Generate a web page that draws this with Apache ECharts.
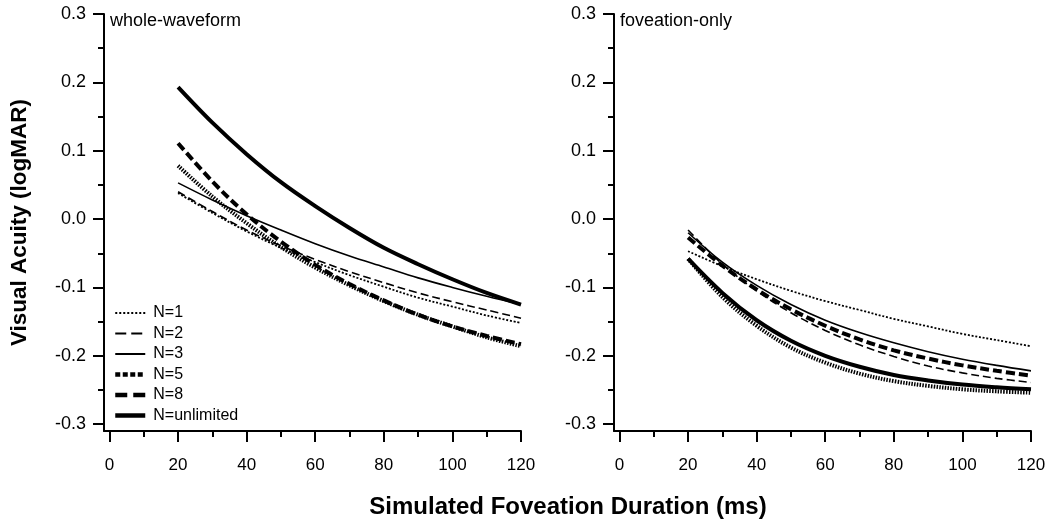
<!DOCTYPE html>
<html><head><meta charset="utf-8">
<script src="https://cdn.jsdelivr.net/npm/echarts@6/dist/echarts.min.js"></script>
<style>html,body{margin:0;padding:0;background:#fff}#c{width:1050px;height:527px}</style>
</head><body><div id="c"></div>
<script>
// ---- data ----
const durations = [20, 30, 40, 50, 60, 70, 80, 90, 100, 110, 120];
const seriesNames = ['N=1', 'N=2', 'N=3', 'N=5', 'N=8', 'N=unlimited'];
const panelTitles = ['whole-waveform', 'foveation-only'];
// whole-waveform panel
const wholeN1   = [0.038, 0.009, -0.018, -0.042, -0.063, -0.082, -0.099, -0.115, -0.128, -0.141, -0.152];
const wholeN2   = [0.040, 0.011, -0.016, -0.039, -0.059, -0.077, -0.093, -0.108, -0.121, -0.133, -0.145];
const wholeN3   = [0.053, 0.028, 0.005, -0.016, -0.036, -0.054, -0.070, -0.086, -0.100, -0.113, -0.125];
const wholeN5   = [0.078, 0.033, -0.006, -0.041, -0.071, -0.097, -0.120, -0.140, -0.157, -0.173, -0.186];
const wholeN8   = [0.111, 0.055, 0.007, -0.033, -0.067, -0.095, -0.119, -0.140, -0.157, -0.171, -0.183];
const wholeNinf = [0.193, 0.141, 0.095, 0.054, 0.019, -0.013, -0.042, -0.066, -0.088, -0.108, -0.125];
// foveation-only panel
const fovN1   = [-0.047, -0.069, -0.088, -0.105, -0.120, -0.133, -0.146, -0.157, -0.168, -0.177, -0.186];
const fovN2   = [-0.016, -0.066, -0.105, -0.137, -0.163, -0.184, -0.201, -0.215, -0.225, -0.233, -0.239];
const fovN3   = [-0.020, -0.063, -0.097, -0.125, -0.148, -0.166, -0.181, -0.194, -0.205, -0.214, -0.222];
const fovN5   = [-0.058, -0.114, -0.156, -0.188, -0.210, -0.226, -0.237, -0.244, -0.249, -0.252, -0.254];
const fovN8   = [-0.027, -0.068, -0.103, -0.132, -0.156, -0.176, -0.192, -0.204, -0.214, -0.222, -0.229];
const fovNinf = [-0.058, -0.108, -0.148, -0.178, -0.200, -0.216, -0.228, -0.236, -0.242, -0.246, -0.249];
// tick values
const xMajorTicks = [0, 20, 40, 60, 80, 100, 120];
const xMinorTicks = [10, 30, 50, 70, 90, 110];
const yMajorTicks = [-0.3, -0.2, -0.1, 0.0, 0.1, 0.2, 0.3];
const yMinorTicks = [-0.25, -0.15, -0.05, 0.05, 0.15, 0.25];

// ---- styling ----
const FONT = "'Liberation Sans', Arial, Helvetica, sans-serif";
const lineStyles = {
  'N=1':         { width: 1.8, type: [2, 1.8] },
  'N=2':         { width: 1.6, type: [8, 4] },
  'N=3':         { width: 1.6, type: 'solid' },
  'N=5':         { width: 4,   type: [1.5, 1.3] },
  'N=8':         { width: 4,   type: [9, 4] },
  'N=unlimited': { width: 4,   type: 'solid' }
};
const legendStyles = {
  'N=1':         { width: 2,   type: [2, 2] },
  'N=2':         { width: 2,   type: [11, 5] },
  'N=3':         { width: 2,   type: 'solid' },
  'N=5':         { width: 4.5, type: [5, 2.5] },
  'N=8':         { width: 4.5, type: [12, 6] },
  'N=unlimited': { width: 4.5, type: 'solid' }
};
const panels = [
  { left: 104, values: [wholeN1, wholeN2, wholeN3, wholeN5, wholeN8, wholeNinf] },
  { left: 614, values: [fovN1, fovN2, fovN3, fovN5, fovN8, fovNinf] }
];
const GRID_TOP = 14, GRID_W = 417, GRID_H = 417;
const X_MIN = -1.6, X_MAX = 120, Y_MIN = -0.31, Y_MAX = 0.3;

const grids = [], xAxes = [], yAxes = [], series = [];
panels.forEach(p => grids.push({ left: p.left, top: GRID_TOP, width: GRID_W, height: GRID_H }));
// minor-tick grids (same geometry)
panels.forEach(p => grids.push({ left: p.left, top: GRID_TOP, width: GRID_W, height: GRID_H }));
const tickLine = { color: '#000', width: 2 };
panels.forEach((p, i) => {
  xAxes.push({
    type: 'value', gridIndex: i, min: X_MIN, max: X_MAX,
    axisLine: { show: true, onZero: false, lineStyle: { color: '#000', width: 2 } },
    axisTick: { show: true, length: 11, customValues: xMajorTicks, lineStyle: tickLine },
    axisLabel: { show: true, customValues: xMajorTicks, margin: 26, fontSize: 17, color: '#000', fontFamily: FONT },
    splitLine: { show: false }
  });
  yAxes.push({
    type: 'value', gridIndex: i, min: Y_MIN, max: Y_MAX,
    name: i === 0 ? 'Visual Acuity (logMAR)' : '',
    nameLocation: 'middle', nameGap: 73,
    nameTextStyle: { fontSize: 22.5, fontWeight: 'bold', color: '#000', fontFamily: FONT },
    axisLine: { show: true, onZero: false, lineStyle: { color: '#000', width: 2 } },
    axisTick: { show: true, length: 11, customValues: yMajorTicks, lineStyle: tickLine },
    axisLabel: { show: true, customValues: yMajorTicks, margin: 18, fontSize: 18, color: '#000', fontFamily: FONT,
                 formatter: v => v.toFixed(1) },
    splitLine: { show: false }
  });
});
panels.forEach((p, i) => {
  xAxes.push({
    type: 'value', gridIndex: 2 + i, min: X_MIN, max: X_MAX,
    axisLine: { show: false, onZero: false },
    axisTick: { show: true, length: 6, customValues: xMinorTicks, lineStyle: tickLine },
    axisLabel: { show: false }, splitLine: { show: false }
  });
  yAxes.push({
    type: 'value', gridIndex: 2 + i, min: Y_MIN, max: Y_MAX,
    axisLine: { show: false, onZero: false },
    axisTick: { show: true, length: 6, customValues: yMinorTicks, lineStyle: tickLine },
    axisLabel: { show: false }, splitLine: { show: false }
  });
});
panels.forEach((p, i) => {
  seriesNames.forEach((name, k) => {
    series.push({
      type: 'line', name: name, xAxisIndex: i, yAxisIndex: i,
      data: durations.map((d, j) => [d, p.values[k][j]]),
      smooth: 0.35, symbol: 'none', showSymbol: false, silent: true,
      lineStyle: Object.assign({ color: '#000', cap: 'butt' }, lineStyles[name]),
      itemStyle: { color: '#000' },
      z: (name === 'N=unlimited' || name === 'N=5' || name === 'N=8') ? 2 : 3
    });
  });
});

const chart = echarts.init(document.getElementById('c'), null, { renderer: 'canvas' });
chart.setOption({
  backgroundColor: '#fff',
  animation: false,
  title: [
    { text: panelTitles[0], left: 110, top: 12, padding: 0,
      textStyle: { fontSize: 18, fontWeight: 'normal', color: '#000', fontFamily: FONT } },
    { text: panelTitles[1], left: 620, top: 12, padding: 0,
      textStyle: { fontSize: 18, fontWeight: 'normal', color: '#000', fontFamily: FONT } }
  ],
  legend: {
    orient: 'vertical', left: 113, top: 305, padding: 0,
    itemWidth: 30, itemHeight: 14, itemGap: 4.5, selectedMode: false,
    itemStyle: { color: 'rgba(0,0,0,0)', borderWidth: 0, opacity: 0 },
    textStyle: { fontSize: 16, color: '#000', fontFamily: FONT, padding: [0, 0, 0, 3] },
    data: seriesNames.map(n => ({
      name: n,
      itemStyle: { color: 'rgba(0,0,0,0)', borderWidth: 0, opacity: 0 },
      lineStyle: Object.assign({ color: '#000', cap: 'butt', opacity: 1 }, legendStyles[n])
    }))
  },
  graphic: [{
    type: 'text', x: 568, y: 507,
    style: { text: 'Simulated Foveation Duration (ms)', align: 'center', verticalAlign: 'middle',
             fontSize: 24, fontWeight: 'bold', fill: '#000', fontFamily: FONT }
  }],
  grid: grids, xAxis: xAxes, yAxis: yAxes, series: series
});
</script></body></html>
